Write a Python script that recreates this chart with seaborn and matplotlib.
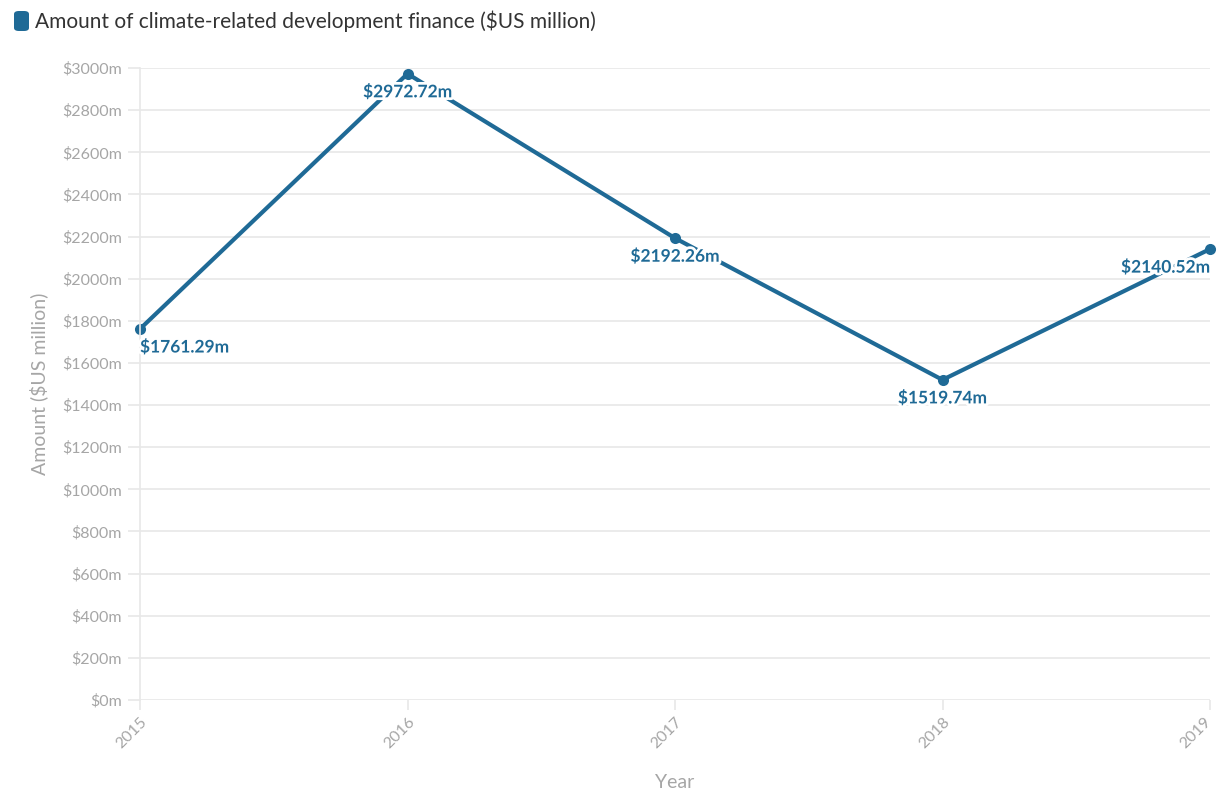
import numpy as np
import pandas as pd
import matplotlib
matplotlib.use("Agg")
import matplotlib.pyplot as plt
import matplotlib.patheffects as pe
import matplotlib.transforms as mtransforms
from matplotlib.patches import FancyBboxPatch
import seaborn as sns

years = [2015, 2016, 2017, 2018, 2019]
amounts = [1761.29, 2972.72, 2192.26, 1519.74, 2140.52]
y_ticks = list(range(0, 3001, 200))
series_name = "Amount of climate-related development finance ($US million)"

df = pd.DataFrame({"Year": years, "Amount": amounts})

sns.set_theme(style="white")
plt.rcParams['font.family'] = ['Lato', 'DejaVu Sans']

blue = "#1f6a96"
grey_txt = "#a6a6a6"
grid_c = "#e8e8e8"

fig = plt.figure(figsize=(12.17, 7.92), dpi=100)
ax = fig.add_axes([140 / 1217, 1 - 700 / 792, 1070 / 1217, 632 / 792])

ax.set_ylim(0, 3000)
ax.set_xlim(years[0], years[-1])
ax.set_yticks(y_ticks)
ax.set_yticklabels([f"${v}m" for v in y_ticks])
ax.set_xticks(years)
ax.set_xticklabels([str(y) for y in years], rotation=45, ha="right",
                   rotation_mode="anchor")
ax.grid(axis="y", color=grid_c, linewidth=1.2)
ax.set_axisbelow(True)

for s in ["top", "right", "bottom"]:
    ax.spines[s].set_visible(False)
ax.spines["left"].set_color(grid_c)
ax.spines["left"].set_linewidth(1.2)

ax.tick_params(axis="y", left=True, length=9, width=1.2, color=grid_c,
               labelsize=11.5, labelcolor=grey_txt, pad=4)
ax.tick_params(axis="x", bottom=True, length=7, width=1.2, color=grid_c,
               labelsize=11.5, labelcolor=grey_txt, pad=4)

# nudge the last year label left so it stays inside the figure
last = ax.get_xticklabels()[-1]
last.set_transform(last.get_transform() +
                   mtransforms.ScaledTranslation(-6 / 100, 0, fig.dpi_scale_trans))

sns.lineplot(data=df, x="Year", y="Amount", ax=ax, color=blue, linewidth=3,
             marker="o", markersize=8, markeredgewidth=0, clip_on=False)

ax.set_xlabel("")
ax.set_ylabel("Amount ($US million)", fontsize=14, color=grey_txt, labelpad=10)
fig.text(675 / 1217, 1 - 783 / 792, "Year", fontsize=14, color=grey_txt,
         ha="center", va="center")

halo = [pe.withStroke(linewidth=4, foreground="white")]
for i, (x, y) in enumerate(zip(years, amounts)):
    if i == 0:
        ha = "left"
    elif i == len(years) - 1:
        ha = "right"
    else:
        ha = "center"
    ax.annotate(f"${y:.2f}m", (x, y), xytext=(0, -13), textcoords="offset points",
                ha=ha, va="center", fontsize=12.5, fontweight="bold", color=blue,
                path_effects=halo, annotation_clip=False, zorder=5)

# legend-like header at top left
fig.patches.append(FancyBboxPatch((14 / 1217, 1 - 31 / 792), 15 / 1217, 20 / 792,
                                  boxstyle="round,pad=0,rounding_size=0.004",
                                  transform=fig.transFigure, facecolor=blue,
                                  edgecolor="none"))
fig.text(35 / 1217, 1 - 21 / 792, series_name, fontsize=15, color="#333333",
         va="center", ha="left")

fig.savefig("out.png", dpi=100)
